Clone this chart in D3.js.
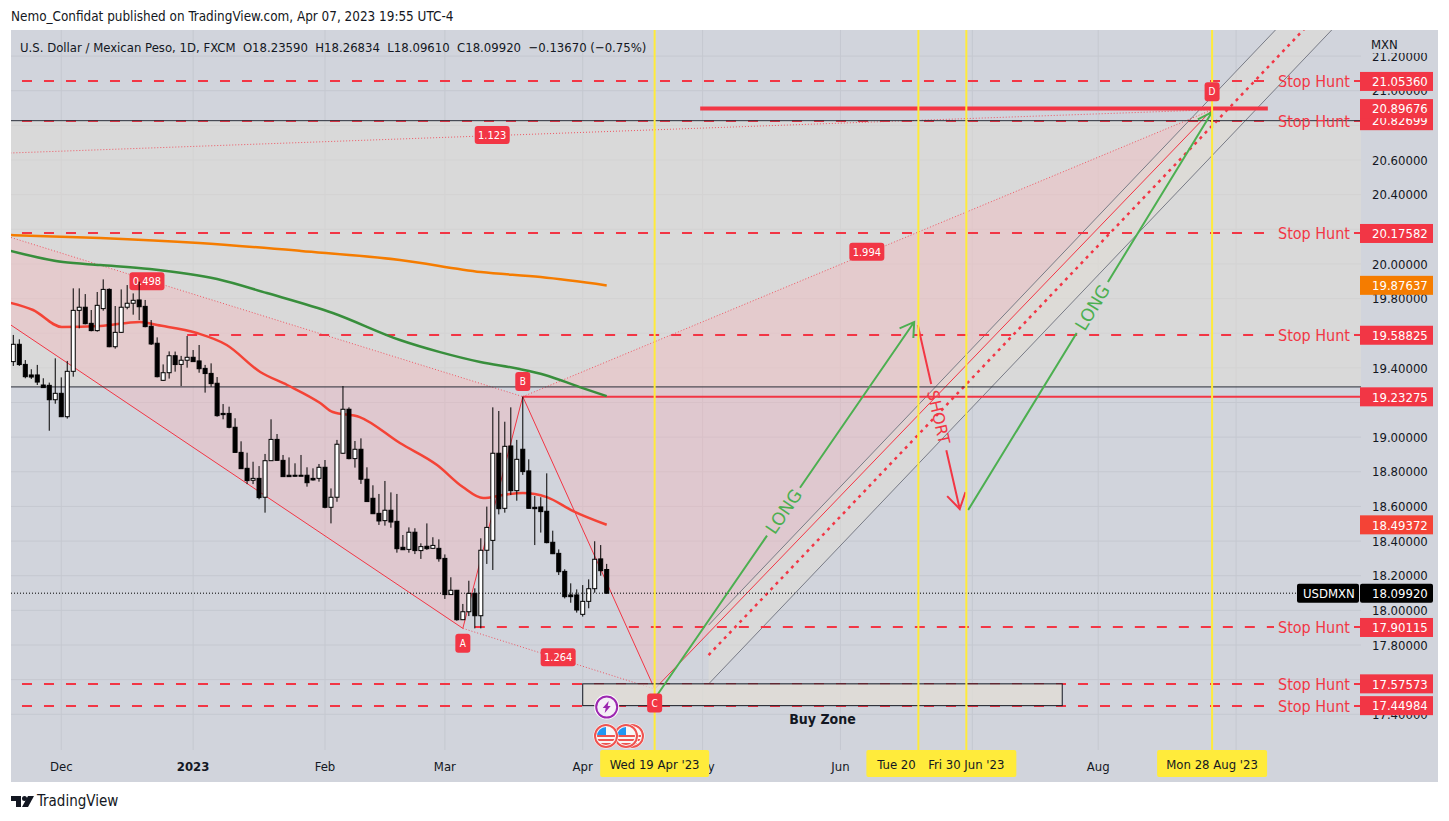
<!DOCTYPE html>
<html>
<head>
<meta charset="utf-8">
<script src="https://cdn.jsdelivr.net/npm/d3@7/dist/d3.min.js"></script>
<style>
    html, body { margin: 0; padding: 0; background: #fff; }
    svg { display: block; }
    text { font-family: 'DejaVu Sans Condensed', 'DejaVu Sans', sans-serif; }
</style>
</head>
<body>
<svg width="1449" height="821"></svg>
<script>
// daily candles, USD/MXN
const opens = [19.436,19.536,19.420,19.359,19.359,19.301,19.299,19.216,19.253,19.118,
    19.380,19.732,19.750,19.657,19.615,19.742,19.853,19.522,19.605,19.750,
    19.773,19.792,19.755,19.640,19.542,19.328,19.372,19.470,19.420,19.444,
    19.461,19.440,19.397,19.368,19.311,19.137,19.137,19.057,18.912,18.820,
    18.751,18.762,18.653,18.864,18.987,18.866,18.780,18.780,18.780,18.780,
    18.762,18.762,18.826,18.595,18.653,18.907,19.161,18.876,18.930,18.757,
    18.647,18.560,18.518,18.578,18.514,18.364,18.352,18.451,18.345,18.370,
    18.358,18.358,18.300,18.091,18.116,17.946,17.992,18.098,17.969,18.347,
    18.404,18.907,18.589,18.949,18.691,18.930,18.805,18.595,18.597,18.572,
    18.393,18.329,18.225,18.089,18.089,17.977,18.052,18.125,18.297,18.2359];
const highs = [19.590,19.565,19.445,19.392,19.417,19.340,19.315,19.455,19.345,19.440,
    19.859,19.859,19.826,19.734,19.838,19.911,19.859,19.757,19.853,19.878,
    19.830,19.898,19.792,19.676,19.576,19.420,19.495,19.494,19.469,19.584,
    19.503,19.532,19.417,19.426,19.347,19.191,19.176,19.109,18.976,18.910,
    18.858,18.833,18.903,19.103,19.018,18.897,18.883,18.849,18.897,18.826,
    18.820,18.845,18.868,18.704,18.984,19.295,19.172,18.978,18.993,18.826,
    18.722,18.672,18.747,18.681,18.672,18.435,18.479,18.474,18.387,18.502,
    18.422,18.410,18.323,18.191,18.118,18.037,18.171,18.127,18.416,18.599,
    19.172,19.151,19.089,19.172,18.984,19.234,18.872,18.660,18.653,18.791,
    18.460,18.352,18.237,18.156,18.121,18.146,18.179,18.399,18.377,18.26834];
const lows = [19.411,19.411,19.340,19.336,19.301,19.286,19.037,19.193,19.118,19.107,
    19.349,19.628,19.651,19.611,19.609,19.730,19.519,19.511,19.603,19.738,
    19.707,19.676,19.634,19.532,19.345,19.324,19.338,19.378,19.295,19.401,
    19.436,19.372,19.257,19.291,19.118,19.103,19.051,18.910,18.818,18.729,
    18.729,18.641,18.564,18.864,18.864,18.772,18.772,18.772,18.776,18.714,
    18.749,18.743,18.589,18.502,18.627,18.903,18.872,18.824,18.730,18.626,
    18.556,18.493,18.489,18.477,18.333,18.349,18.333,18.325,18.297,18.349,
    18.354,18.281,18.066,18.089,17.940,17.944,17.967,17.896,17.896,18.268,
    18.233,18.554,18.564,18.666,18.633,18.782,18.589,18.377,18.449,18.387,
    18.325,18.204,18.069,18.044,17.987,17.964,18.012,18.102,18.200,18.0961];
const closes = [19.536,19.419,19.349,19.347,19.318,19.286,19.216,19.253,19.118,19.380,
    19.732,19.750,19.655,19.615,19.761,19.853,19.522,19.605,19.750,19.773,
    19.790,19.753,19.638,19.538,19.349,19.372,19.470,19.419,19.444,19.461,
    19.436,19.395,19.367,19.309,19.124,19.130,19.057,18.912,18.818,18.749,
    18.762,18.651,18.864,18.987,18.866,18.772,18.772,18.776,18.778,18.737,
    18.753,18.826,18.595,18.653,18.959,19.161,18.876,18.930,18.757,18.628,
    18.558,18.516,18.578,18.510,18.356,18.350,18.451,18.345,18.368,18.356,
    18.375,18.298,18.091,18.116,17.946,17.992,18.098,17.969,18.347,18.479,
    18.907,18.587,18.947,18.691,18.872,18.801,18.589,18.587,18.570,18.391,
    18.327,18.223,18.079,18.079,18.002,18.052,18.125,18.295,18.229,18.0992];

// moving averages, candle index + price
const orangeIdx = [-1,14.5,31,48,64.5,78,88,99];
const orangeVal = [20.167,20.150,20.121,20.075,20.023,19.953,19.924,19.876];
const greenIdx = [-1,8.3,14.5,22.8,34,42.3,53.3,64.5,71.2,77.9,84.5,88.7,94.5,99];
const greenVal = [20.080,20.011,19.994,19.971,19.913,19.832,19.717,19.561,19.491,19.434,19.393,19.359,19.289,19.237];
const redIdx = [-1,3.3,8.1,14.5,21.1,24,30.6,35.6,41.2,45.7,51.2,53.3,57.8,64.5,70.7,75,78.4,81.7,85,89,93.4,99];
const redVal = [19.780,19.734,19.636,19.642,19.665,19.647,19.601,19.532,19.376,19.301,19.197,19.145,19.116,18.966,18.839,18.712,18.648,18.666,18.677,18.654,18.573,18.494];

// XABCD pattern
const patternNames = ['X','A','B','C','D'];
const patternIdx = [-41,75,85,107,200];
const patternVal = [20.59,17.896,19.234,17.546,20.89];
const ratioLabels = ['0.498','1.264','1.994','1.123'];
const ratioIdx = [22.3,90.9,142.4,79.9];
const ratioVal = [19.90,17.73,20.07,20.744];

// channel, lower-left and upper-right ends
const channelIdx = [116,226];
const channelUpper = [17.915,21.911];
const channelMiddle = [17.742,21.743];
const channelLower = [17.575,21.570];

// stop hunt lines and where each one starts
const stopPrices = [21.0536,20.82699,20.17582,19.58825,17.90115,17.57573,17.44984];
const stopStartIdx = [-2.22,-2.22,-2.22,29,77,-2.22,-2.22];

const boxTop = 20.82699, boxBottom = 19.29;
const buyIdx = [95,175], buyVal = [17.57573,17.44984];
const heavyLineIdx = [114.6,209.3], heavyLineVal = 20.89676;
const supportStartIdx = 85, supportVal = 19.23275;

const vlineIdx = [107,151,159,200];
const vlineLabels = ["Wed 19 Apr '23","Tue 20 Jun '23","Fri 30 Jun '23","Mon 28 Aug '23"];
const vlineWidths = [109,104,100,110];

const monthIdx = [8,30,52,72,95,115,138,160,181,204];
const monthLabels = ['Dec','2023','Feb','Mar','Apr','May','Jun','','Aug',''];
const priceTicks = [17.4,17.6,17.8,18,18.2,18.4,18.6,18.8,19,19.2,19.4,19.6,19.8,20,20.2,20.4,20.6,20.8,21,21.2];
const priceLabels = [17.4,17.6,17.8,18,18.2,18.4,18.6,18.8,19,19.4,19.8,20,20.2,20.4,20.6,20.8,21,21.2];

// price tags, later ones sit on top
const tagVals = [21.0536,20.82699,20.89676,20.17582,19.87637,19.58825,19.23275,18.49372,17.90115,17.57573,17.44984];
const tagCols = ['#f23645','#f23645','#f23645','#f23645','#f57c00','#f23645','#f23645','#f44336','#f23645','#f23645','#f23645'];
const lastClose = 18.0992;

// arrows: [startIdx, startVal, endIdx, endVal]
const longA = [107,17.49,150.3,19.665];
const longB = [159.3,18.579,200,20.877];
const shortA = [150.9,19.647,157.9,18.585];

const red = '#f23645', green = '#4caf50', yellow = '#ffeb3b', ink = '#131722';
const greyFill = 'rgba(225,222,214,0.5)', pinkFill = 'rgba(246,182,188,0.4)';

const svg = d3.select('svg');
const plot = {left: 11, right: 1361, top: 30, bottom: 750};

const x = d3.scaleLinear().domain([0, 99]).range([13.3, 606.7]);
const y = d3.scaleLinear().domain([17.8, 20.6]).range([645, 160]);

// page text and panel
svg.append('text').attr('x', 11).attr('y', 21).style('font-size', '13.4px').style('fill', ink)
    .text('Nemo_Confidat published on TradingView.com, Apr 07, 2023 19:55 UTC-4');
svg.append('rect').attr('x', plot.left).attr('y', plot.top).attr('width', 1427).attr('height', 752).attr('fill', '#d1d4dc');

svg.append('clipPath').attr('id', 'plotclip').append('rect')
    .attr('x', plot.left).attr('y', plot.top)
    .attr('width', plot.right - plot.left).attr('height', plot.bottom - plot.top);

const chart = svg.append('g').attr('clip-path', 'url(#plotclip)');

// grid
chart.selectAll('.hgrid').data(priceTicks).enter().append('line')
    .attr('x1', plot.left).attr('x2', plot.right)
    .attr('y1', d => y(d)).attr('y2', d => y(d))
    .attr('stroke', '#c5c8d0').attr('stroke-width', 1);
chart.selectAll('.vgrid').data(monthIdx).enter().append('line')
    .attr('x1', d => x(d)).attr('x2', d => x(d))
    .attr('y1', plot.top).attr('y2', plot.bottom)
    .attr('stroke', '#c5c8d0').attr('stroke-width', 1);

// big grey box
chart.append('rect')
    .attr('x', plot.left).attr('width', plot.right - plot.left)
    .attr('y', y(boxTop)).attr('height', y(boxBottom) - y(boxTop))
    .attr('fill', greyFill);

// pattern fills
const pt = i => [x(patternIdx[i]), y(patternVal[i])];
[[0, 1, 2], [2, 3, 4]].forEach(function(t) {
    chart.append('path')
        .attr('d', d3.line()(t.map(pt)) + 'Z')
        .attr('fill', pinkFill);
});

// channel
const channelPath = d3.line()([
    [x(channelIdx[0]), y(channelUpper[0])],
    [x(channelIdx[1]), y(channelUpper[1])],
    [x(channelIdx[1]), y(channelLower[1])],
    [x(channelIdx[0]), y(channelLower[0])]
]);
chart.append('path').attr('d', channelPath + 'Z').attr('fill', greyFill);
[channelUpper, channelLower].forEach(function(c) {
    chart.append('line')
        .attr('x1', x(channelIdx[0])).attr('y1', y(c[0]))
        .attr('x2', x(channelIdx[1])).attr('y2', y(c[1]))
        .attr('stroke', '#787b86').attr('stroke-width', 1);
});
chart.append('line')
    .attr('x1', x(channelIdx[0])).attr('y1', y(channelMiddle[0]))
    .attr('x2', x(channelIdx[1])).attr('y2', y(channelMiddle[1]))
    .attr('stroke', red).attr('stroke-width', 2.5).attr('stroke-dasharray', '3,4.5');

// pattern legs
[[0, 1], [1, 2], [2, 3], [3, 4]].forEach(function(l) {
    chart.append('path').attr('d', d3.line()(l.map(pt)))
        .attr('stroke', red).attr('stroke-width', 1).attr('fill', 'none');
});
[[0, 2], [1, 3], [2, 4], [0, 4]].forEach(function(l) {
    chart.append('path').attr('d', d3.line()(l.map(pt)))
        .attr('stroke', red).attr('stroke-width', 1).attr('stroke-dasharray', '1,2')
        .attr('fill', 'none').attr('opacity', 0.8);
});

// stop hunt dashes, with a gap for the text
stopPrices.forEach(function(p, i) {
    const py = Math.round(y(p));
    chart.append('line')
        .attr('x1', x(stopStartIdx[i])).attr('x2', 1274)
        .attr('y1', py).attr('y2', py)
        .attr('stroke', red).attr('stroke-width', 2).attr('stroke-dasharray', '10,12');
    chart.append('line')
        .attr('x1', 1354).attr('x2', plot.right)
        .attr('y1', py).attr('y2', py)
        .attr('stroke', red).attr('stroke-width', 2);
    svg.append('text').attr('class', 'stop')
        .attr('x', 1314).attr('y', py).attr('dy', '0.36em')
        .attr('text-anchor', 'middle')
        .style('fill', red).style('font-size', '16px')
        .text('Stop Hunt');
});

// black edges of the box
[boxTop, boxBottom].forEach(function(p) {
    chart.append('line')
        .attr('x1', plot.left).attr('x2', plot.right)
        .attr('y1', y(p)).attr('y2', y(p))
        .attr('stroke', '#2a2e39').attr('stroke-width', 1);
});

// buy zone
chart.append('rect')
    .attr('x', x(buyIdx[0])).attr('width', x(buyIdx[1]) - x(buyIdx[0]))
    .attr('y', y(buyVal[0])).attr('height', y(buyVal[1]) - y(buyVal[0]))
    .attr('fill', 'rgba(225,222,214,0.75)').attr('stroke', '#131722').attr('stroke-width', 1);
chart.append('text')
    .attr('x', (x(buyIdx[0]) + x(buyIdx[1])) / 2).attr('y', y(buyVal[1]) + 18)
    .attr('text-anchor', 'middle')
    .style('font-size', '14px').style('font-weight', 'bold').style('fill', ink)
    .text('Buy Zone');

// solid red levels
chart.append('line')
    .attr('x1', x(heavyLineIdx[0])).attr('x2', x(heavyLineIdx[1]))
    .attr('y1', y(heavyLineVal)).attr('y2', y(heavyLineVal))
    .attr('stroke', red).attr('stroke-width', 4);
chart.append('line')
    .attr('x1', x(supportStartIdx)).attr('x2', plot.right)
    .attr('y1', y(supportVal)).attr('y2', y(supportVal))
    .attr('stroke', red).attr('stroke-width', 2);

// moving averages
const maLine = d3.line().curve(d3.curveMonotoneX);
[[orangeIdx, orangeVal, '#f57c00'], [greenIdx, greenVal, '#388e3c'], [redIdx, redVal, '#f44336']].forEach(function(m) {
    chart.append('path')
        .attr('d', maLine(m[0].map((d, i) => [x(d), y(m[1][i])])))
        .attr('fill', 'none').attr('stroke', m[2]).attr('stroke-width', 2.5);
});

// ratio labels
function tag(parent, cx, cy, w, h, txt, size) {
    parent.append('rect')
        .attr('x', cx - w / 2).attr('y', cy - h / 2)
        .attr('width', w).attr('height', h).attr('rx', 3)
        .attr('fill', red);
    parent.append('text')
        .attr('x', cx).attr('y', cy).attr('dy', '0.36em')
        .attr('text-anchor', 'middle')
        .style('fill', '#fff').style('font-size', size + 'px')
        .text(txt);
}
ratioLabels.forEach(function(t, i) {
    tag(chart, x(ratioIdx[i]), y(ratioVal[i]), 35, 18, t, 11);
});

// candles
const candles = chart.append('g');
candles.selectAll('.wick').data(opens).enter().append('line')
    .attr('x1', (d, i) => x(i)).attr('x2', (d, i) => x(i))
    .attr('y1', (d, i) => y(highs[i])).attr('y2', (d, i) => y(lows[i]))
    .attr('stroke', '#000').attr('stroke-width', 1);
candles.selectAll('.body').data(opens).enter().append('rect')
    .attr('x', (d, i) => x(i) - 2)
    .attr('width', 4)
    .attr('y', (d, i) => y(Math.max(d, closes[i])))
    .attr('height', (d, i) => Math.max(1, Math.abs(y(d) - y(closes[i]))))
    .attr('fill', (d, i) => closes[i] >= d ? '#fff' : '#000')
    .attr('stroke', '#000').attr('stroke-width', 1);

// last price line
chart.append('line')
    .attr('x1', plot.left).attr('x2', 1297)
    .attr('y1', y(lastClose)).attr('y2', y(lastClose))
    .attr('stroke', '#000').attr('stroke-width', 1).attr('stroke-dasharray', '1,2');

// arrows
function arrow(a, color, gapFrom, gapTo, headLen) {
    const x0 = x(a[0]), y0 = y(a[1]), x1 = x(a[2]), y1 = y(a[3]);
    const at = t => [x0 + (x1 - x0) * t, y0 + (y1 - y0) * t];
    const ang = Math.atan2(y1 - y0, x1 - x0);
    const head = s => [x1 - headLen * Math.cos(ang + s), y1 - headLen * Math.sin(ang + s)];
    chart.append('path')
        .attr('d', d3.line()([[x0, y0], at(gapFrom)]) + d3.line()([at(gapTo), [x1, y1]]) +
            d3.line()([head(0.55), [x1, y1], head(-0.55)]))
        .attr('fill', 'none').attr('stroke', color).attr('stroke-width', 2);
}
arrow(longA, green, 0.433, 0.56, 16);
arrow(longB, green, 0.445, 0.573, 16);
arrow(shortA, red, 0.32, 0.68, 18);

function along(a, txt, color, t, size) {
    const x0 = x(a[0]), y0 = y(a[1]), x1 = x(a[2]), y1 = y(a[3]);
    const px = x0 + (x1 - x0) * t, py = y0 + (y1 - y0) * t;
    const deg = Math.atan2(y1 - y0, x1 - x0) * 180 / Math.PI;
    chart.append('text')
        .attr('transform', `translate(${px},${py}) rotate(${deg})`)
        .attr('text-anchor', 'middle').attr('dy', '0.36em')
        .style('fill', color).style('font-size', size + 'px')
        .style('font-family', "'DejaVu Sans',sans-serif")
        .text(txt);
}
along(longA, 'LONG', green, 0.497, 17.5);
along(longB, 'LONG', green, 0.509, 17.5);
along(shortA, 'SHORT', red, 0.5, 16);

// yellow time lines
vlineIdx.forEach(function(d) {
    chart.append('line')
        .attr('x1', x(d)).attr('x2', x(d))
        .attr('y1', plot.top).attr('y2', plot.bottom)
        .attr('stroke', yellow).attr('stroke-width', 2);
});

// pattern point tags
const tagOffset = [0, 15, -15, 14, -18];
patternNames.forEach(function(n, i) {
    if (i === 0) return;
    tag(chart, pt(i)[0], pt(i)[1] + tagOffset[i], 15, 19, n, 10);
});

// event icons
function flag(cx, cy) {
    const id = 'f' + Math.round(cx);
    const g = svg.append('g');
    g.append('clipPath').attr('id', id).append('circle').attr('cx', cx).attr('cy', cy).attr('r', 9);
    g.append('circle').attr('cx', cx).attr('cy', cy).attr('r', 12.5).attr('fill', '#fff');
    g.append('circle').attr('cx', cx).attr('cy', cy).attr('r', 11).attr('fill', '#f6f6f6').attr('stroke', '#ef5350').attr('stroke-width', 2);
    const inner = g.append('g').attr('clip-path', `url(#${id})`);
    [-1, 3, 7].forEach(function(o) {
        inner.append('rect').attr('x', cx - 10).attr('y', cy + o).attr('width', 20).attr('height', 2).attr('fill', '#ef5350');
    });
    inner.append('rect').attr('x', cx - 10).attr('y', cy - 10).attr('width', 10).attr('height', 9).attr('fill', '#2196f3');
}
const lightning = svg.append('g').attr('transform', `translate(${x(99)},707)`);
lightning.append('circle').attr('r', 12.5).attr('fill', '#fff');
lightning.append('circle').attr('r', 10.5).attr('fill', '#f4eff6').attr('stroke', '#9c27b0').attr('stroke-width', 2);
lightning.append('path').attr('d', 'M2,-6 L-4,1 L-1,1 L-2,6 L4,-1 L1,-1 Z').attr('fill', '#9c27b0');
[632, 626, 606].forEach(d => flag(d, 736));

// price axis
const axisG = svg.append('g')
    .attr('transform', `translate(1366,0)`)
    .call(d3.axisRight(y).tickValues(priceLabels).tickSize(0).tickPadding(6).tickFormat(d => d.toFixed(5)));
axisG.select('.domain').remove();
axisG.selectAll('text').style('font-size', '13px').style('fill', ink)
    .style('font-family', "'DejaVu Sans Condensed','DejaVu Sans',sans-serif");
svg.append('rect').attr('x', 1362).attr('y', 30).attr('width', 76).attr('height', 23).attr('fill', '#d1d4dc');
svg.append('text').attr('x', 1371).attr('y', 49).style('font-size', '13px').style('fill', ink).text('MXN');

tagVals.forEach(function(p, i) {
    svg.append('rect').attr('x', 1360).attr('y', y(p) - 9.5).attr('width', 73).attr('height', 19).attr('fill', tagCols[i]);
    svg.append('text').attr('x', 1372).attr('y', y(p)).attr('dy', '0.36em')
        .style('fill', '#fff').style('font-size', '13px').text(p.toFixed(5));
});

// last price tag
svg.append('rect').attr('x', 1297).attr('y', y(lastClose) - 9.5).attr('width', 62).attr('height', 19).attr('rx', 2).attr('fill', '#000');
svg.append('text').attr('x', 1303).attr('y', y(lastClose)).attr('dy', '0.36em')
    .style('fill', '#fff').style('font-size', '13px').text('USDMXN');
svg.append('rect').attr('x', 1360).attr('y', y(lastClose) - 9.5).attr('width', 73).attr('height', 19).attr('rx', 2).attr('fill', '#000');
svg.append('text').attr('x', 1372).attr('y', y(lastClose)).attr('dy', '0.36em')
    .style('fill', '#fff').style('font-size', '13px').text(lastClose.toFixed(5));

// time axis
svg.selectAll('.month').data(monthIdx).enter().append('text')
    .attr('x', d => x(d)).attr('y', 771)
    .attr('text-anchor', 'middle')
    .style('font-size', '13px').style('fill', ink)
    .style('font-weight', (d, i) => monthLabels[i] === '2023' ? 'bold' : 'normal')
    .text((d, i) => monthLabels[i]);

vlineIdx.forEach(function(d, i) {
    svg.append('rect')
        .attr('x', x(d) - vlineWidths[i] / 2).attr('y', 750)
        .attr('width', vlineWidths[i]).attr('height', 27)
        .attr('rx', 2).attr('fill', yellow);
    svg.append('text')
        .attr('x', x(d)).attr('y', 769).attr('text-anchor', 'middle')
        .style('font-size', '13px').style('fill', ink)
        .text(vlineLabels[i]);
});

// legend
svg.append('text').attr('x', 20).attr('y', 52).style('font-size', '13px').style('fill', ink)
    .style('white-space', 'pre')
    .text('U.S. Dollar / Mexican Peso, 1D, FXCM  O18.23590  H18.26834  L18.09610  C18.09920  \u22120.13670 (\u22120.75%)');

// logo
const logo = svg.append('g').attr('transform', 'translate(11,796)').attr('fill', ink);
logo.append('path').attr('d', 'M0,0 H10 V11 H5 V5 H0 Z');
logo.append('circle').attr('cx', 13.5).attr('cy', 2.5).attr('r', 2.5);
logo.append('path').attr('d', 'M17,0 H23 L17,11 H11 Z');
svg.append('text').attr('x', 37).attr('y', 806).style('font-size', '15px').style('fill', ink).text('TradingView');
</script>
</body>
</html>
